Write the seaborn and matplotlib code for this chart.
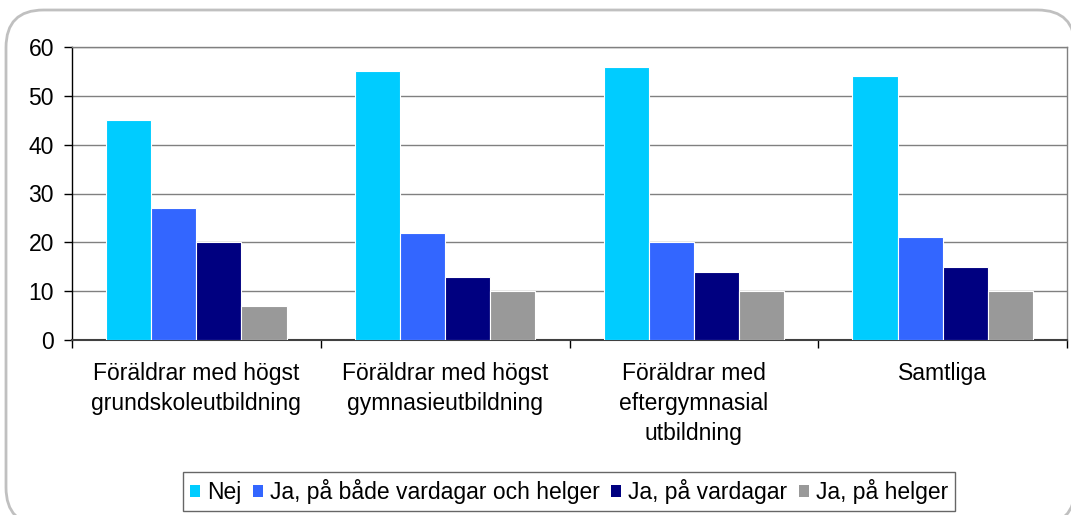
import matplotlib
matplotlib.use("Agg")
import matplotlib.pyplot as plt
from matplotlib.patches import FancyBboxPatch
import seaborn as sns
import pandas as pd

categories = [
    "Föräldrar med högst\ngrundskoleutbildning",
    "Föräldrar med högst\ngymnasieutbildning",
    "Föräldrar med\neftergymnasial\nutbildning",
    "Samtliga",
]
series_names = ["Nej", "Ja, på både vardagar och helger", "Ja, på vardagar", "Ja, på helger"]
nej = [45, 55, 56, 54]
ja_bada = [27, 22, 20, 21]
ja_vardagar = [20, 13, 14, 15]
ja_helger = [7, 10, 10, 10]
y_ticks = [0, 10, 20, 30, 40, 50, 60]

colors = ["#00CCFF", "#3366FF", "#000080", "#999999"]

rows = []
for name, vals in zip(series_names, [nej, ja_bada, ja_vardagar, ja_helger]):
    for cat, v in zip(categories, vals):
        rows.append({"Grupp": cat, "Svar": name, "Andel": v})
df = pd.DataFrame(rows)

sns.set_theme(style="white")
plt.rcParams["font.family"] = ["Liberation Sans", "DejaVu Sans"]
plt.rcParams["text.color"] = "black"
plt.rcParams["xtick.color"] = "black"
plt.rcParams["ytick.color"] = "black"
FS = 16.5

W, H = 1071, 515
fig = plt.figure(figsize=(W / 100, H / 100), dpi=100)

# rounded chart-area frame, kept behind the axes
frame = FancyBboxPatch((6 / W, 1 - 525 / H), (1075 - 6) / W, (525 - 10) / H,
                       boxstyle="round,pad=0,rounding_size=0.035",
                       transform=fig.transFigure, facecolor="white",
                       edgecolor="#c0c0c0", linewidth=2, mutation_aspect=W / H,
                       clip_on=False, zorder=-10)
fig.patches.append(frame)

left, right, top, bottom = 72, 1067, 47, 340
ax = fig.add_axes([left / W, 1 - bottom / H, (right - left) / W, (bottom - top) / H])
ax.set_facecolor("white")

sns.barplot(data=df, x="Grupp", y="Andel", hue="Svar", order=categories,
            hue_order=series_names, palette=colors, width=0.725, gap=0,
            edgecolor="white", linewidth=0.8, saturation=1, ax=ax, legend=False,
            zorder=3)

ax.set_ylim(0, 60)
ax.set_xlim(-0.5, 3.5)
ax.set_yticks(y_ticks)
ax.set_yticklabels([str(t) for t in y_ticks], fontsize=FS, color="black")
ax.yaxis.grid(True, color="#808080", linewidth=1, zorder=0)
ax.set_axisbelow(True)

ax.set_xticks([-0.5, 0.5, 1.5, 2.5, 3.5])
ax.set_xticklabels([])
ax.set_xticks(range(len(categories)), minor=True)
ax.set_xticklabels(categories, minor=True, fontsize=FS, color="black",
                   linespacing=1.4)
ax.tick_params(axis="x", which="minor", length=0, pad=15.5)
ax.tick_params(axis="x", which="major", direction="out", length=6, width=1,
               color="black", bottom=True)
ax.tick_params(axis="y", direction="out", length=6, width=1, color="black",
               left=True, pad=7)
ax.set_xlabel("")
ax.set_ylabel("")

for side in ["top", "right"]:
    ax.spines[side].set_visible(True)
    ax.spines[side].set_color("#808080")
    ax.spines[side].set_linewidth(1)
ax.spines["left"].set_color("black")
ax.spines["left"].set_linewidth(1)
ax.spines["bottom"].set_color("#404040")
ax.spines["bottom"].set_linewidth(1.5)

handles = [plt.Rectangle((0, 0), 1, 1, facecolor=c, edgecolor="none") for c in colors]
leg = fig.legend(handles, series_names, loc="center",
                 bbox_to_anchor=((183 + 955) / 2 / W, 1 - 491.5 / H),
                 ncol=4, frameon=True, fontsize=FS, handlelength=0.45,
                 handleheight=0.45, handletextpad=0.3, columnspacing=0.5,
                 borderpad=0.3, fancybox=False, edgecolor="#404040")
leg.get_frame().set_linewidth(1)
for t in leg.get_texts():
    t.set_color("black")

fig.savefig("out.png", dpi=100, facecolor="white")
